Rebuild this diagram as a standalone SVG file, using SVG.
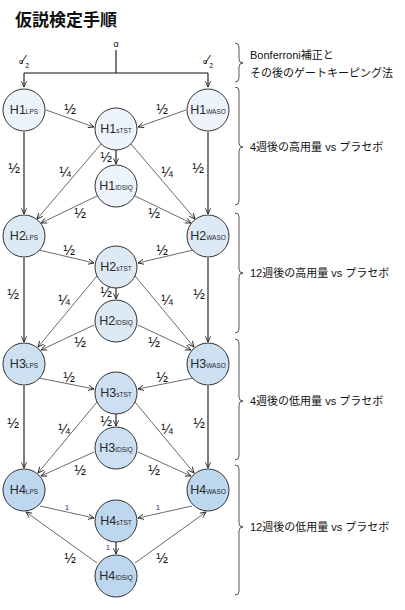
<svg xmlns="http://www.w3.org/2000/svg" width="405" height="610" viewBox="0 0 405 610">
<style>
.t{font-family:"Liberation Sans","Noto Sans CJK JP",sans-serif;fill:#111;font-weight:normal}
.title{font-family:"Noto Sans CJK JP",sans-serif;font-weight:bold;font-size:17px;fill:#111}
.side{font-size:11px}
.nl{font-size:12.5px;text-anchor:middle;fill:#2a2a2a}
.sub{font-size:6.5px}
.fr{font-size:14px;text-anchor:middle}
.one{font-size:8px;text-anchor:middle;fill:#4e2a75}
.n1{fill:#edf3fa}.n2{fill:#dde9f5}.n3{fill:#cde0f2}.n4{fill:#bdd7ee}
circle{stroke:#333;stroke-width:1}
.d{stroke:#444;stroke-width:0.8;fill:none;marker-end:url(#ah)}
.v{stroke:#111;stroke-width:1.1;fill:none;marker-end:url(#ah)}
.br{stroke:#444;stroke-width:0.9;fill:none}
</style>
<defs>
<marker id="ah" viewBox="0 0 8 8" refX="7.5" refY="4" markerWidth="7" markerHeight="7" markerUnits="userSpaceOnUse" orient="auto">
<path d="M1,1 L7.5,4 L1,7" fill="none" stroke="#222" stroke-width="1"/>
</marker>
</defs>
<rect width="405" height="610" fill="#fff"/>
<text class="title" x="15" y="26">仮説検定手順</text>

<g id="connectors">
<path d="M116,50 V73 M24,73 H208" stroke="#111" stroke-width="1.1" fill="none"/>
<path class="v" d="M24,73 V87"/>
<path class="v" d="M208,73 V87"/>
<path class="d" d="M46,110 L94,127"/>
<path class="d" d="M186,110 L138,127"/>
<path class="v" d="M24,132 V214"/>
<path class="v" d="M208,132 V214"/>
<path class="v" d="M116,150 V164"/>
<path class="d" d="M101,144 L37,219"/>
<path class="d" d="M131,144 L195,219"/>
<path class="d" d="M97,196 L41,223"/>
<path class="d" d="M135,196 L191,223"/>
<path class="d" d="M39,250 L94,263"/>
<path class="d" d="M193,250 L138,263"/>
<path class="v" d="M24,258 V342"/>
<path class="v" d="M208,258 V342"/>
<path class="v" d="M116,288 V299"/>
<path class="d" d="M97,276 L38,347"/>
<path class="d" d="M135,276 L194,347"/>
<path class="d" d="M94,325 L41,350"/>
<path class="d" d="M138,325 L191,350"/>
<path class="d" d="M39,378 L94,389"/>
<path class="d" d="M193,378 L138,389"/>
<path class="v" d="M24,386 V468"/>
<path class="v" d="M208,386 V468"/>
<path class="v" d="M116,414 V426"/>
<path class="d" d="M97,402 L38,473"/>
<path class="d" d="M135,402 L194,473"/>
<path class="d" d="M94,452 L41,476"/>
<path class="d" d="M138,452 L191,476"/>
<path class="d" d="M40,506 L94,518"/>
<path class="d" d="M192,506 L138,518"/>
<path class="v" d="M116,542 V554"/>
<path class="d" d="M97,563 L26,512"/>
<path class="d" d="M135,563 L206,512"/>
</g>

<g id="edge-labels" class="t">
<text x="116" y="47" style="font-size:9px;text-anchor:middle">α</text>
<text x="24" y="68" style="font-size:13px;text-anchor:middle"><tspan style="font-size:7px" dy="-4">α</tspan><tspan dy="0">⁄</tspan><tspan style="font-size:7px" dy="4">2</tspan></text>
<text x="208" y="68" style="font-size:13px;text-anchor:middle"><tspan style="font-size:7px" dy="-4">α</tspan><tspan dy="0">⁄</tspan><tspan style="font-size:7px" dy="4">2</tspan></text>
<text class="fr" x="70" y="114">½</text>
<text class="fr" x="162" y="114">½</text>
<text class="fr" x="14" y="173">½</text>
<text class="fr" x="198" y="173">½</text>
<text class="fr" x="106" y="162">½</text>
<text class="fr" x="65" y="177">¼</text>
<text class="fr" x="167" y="177">¼</text>
<text class="fr" x="80" y="218">½</text>
<text class="fr" x="154" y="218">½</text>
<text class="fr" x="69" y="255">½</text>
<text class="fr" x="162" y="255">½</text>
<text class="fr" x="13" y="299">½</text>
<text class="fr" x="199" y="299">½</text>
<text class="fr" x="106" y="297">½</text>
<text class="fr" x="64" y="305">¼</text>
<text class="fr" x="167" y="305">¼</text>
<text class="fr" x="80" y="347">½</text>
<text class="fr" x="154" y="347">½</text>
<text class="fr" x="69" y="382">½</text>
<text class="fr" x="162" y="382">½</text>
<text class="fr" x="13" y="428">½</text>
<text class="fr" x="199" y="428">½</text>
<text class="fr" x="106" y="426">½</text>
<text class="fr" x="64" y="434">¼</text>
<text class="fr" x="167" y="434">¼</text>
<text class="fr" x="80" y="475">½</text>
<text class="fr" x="154" y="475">½</text>
<text class="one" x="67" y="510">1</text>
<text class="one" x="158" y="510">1</text>
<text class="one" x="108" y="550">1</text>
<text class="fr" x="70" y="563">½</text>
<text class="fr" x="162" y="563">½</text>
</g>

<g id="H1LPS"><circle class="n1" cx="24" cy="110" r="21"/><text class="t nl" x="24" y="114">H1<tspan class="sub">LPS</tspan></text></g>
<g id="H1WASO"><circle class="n1" cx="208" cy="110" r="21"/><text class="t nl" x="208" y="114">H1<tspan class="sub">WASO</tspan></text></g>
<g id="H1sTST"><circle class="n1" cx="116" cy="129" r="21"/><text class="t nl" x="116" y="133">H1<tspan class="sub">sTST</tspan></text></g>
<g id="H1IDSIQ"><circle class="n1" cx="116" cy="186" r="21"/><text class="t nl" x="116" y="190">H1<tspan class="sub">IDSIQ</tspan></text></g>
<g id="H2LPS"><circle class="n2" cx="24" cy="236" r="21"/><text class="t nl" x="24" y="240">H2<tspan class="sub">LPS</tspan></text></g>
<g id="H2WASO"><circle class="n2" cx="208" cy="236" r="21"/><text class="t nl" x="208" y="240">H2<tspan class="sub">WASO</tspan></text></g>
<g id="H2sTST"><circle class="n2" cx="116" cy="267" r="21"/><text class="t nl" x="116" y="271">H2<tspan class="sub">sTST</tspan></text></g>
<g id="H2IDSIQ"><circle class="n2" cx="116" cy="321" r="21"/><text class="t nl" x="116" y="325">H2<tspan class="sub">IDSIQ</tspan></text></g>
<g id="H3LPS"><circle class="n3" cx="24" cy="364" r="21"/><text class="t nl" x="24" y="368">H3<tspan class="sub">LPS</tspan></text></g>
<g id="H3WASO"><circle class="n3" cx="208" cy="364" r="21"/><text class="t nl" x="208" y="368">H3<tspan class="sub">WASO</tspan></text></g>
<g id="H3sTST"><circle class="n3" cx="116" cy="393" r="21"/><text class="t nl" x="116" y="397">H3<tspan class="sub">sTST</tspan></text></g>
<g id="H3IDSIQ"><circle class="n3" cx="116" cy="448" r="21"/><text class="t nl" x="116" y="452">H3<tspan class="sub">IDSIQ</tspan></text></g>
<g id="H4LPS"><circle class="n4" cx="24" cy="490" r="21"/><text class="t nl" x="24" y="494">H4<tspan class="sub">LPS</tspan></text></g>
<g id="H4WASO"><circle class="n4" cx="208" cy="490" r="21"/><text class="t nl" x="208" y="494">H4<tspan class="sub">WASO</tspan></text></g>
<g id="H4sTST"><circle class="n4" cx="116" cy="521" r="21"/><text class="t nl" x="116" y="525">H4<tspan class="sub">sTST</tspan></text></g>
<g id="H4IDSIQ"><circle class="n4" cx="116" cy="576" r="21"/><text class="t nl" x="116" y="580">H4<tspan class="sub">IDSIQ</tspan></text></g>

<g id="braces">
<path class="br" d="M235,43 Q239,43 239,47 L239,59 Q239,63 243,63 Q239,63 239,67 L239,78 Q239,82 235,82"/>
<path class="br" d="M235,87 Q239,87 239,91 L239,143 Q239,147 243,147 Q239,147 239,151 L239,201 Q239,205 235,205"/>
<path class="br" d="M235,213 Q239,213 239,217 L239,269 Q239,273 243,273 Q239,273 239,277 L239,329 Q239,333 235,333"/>
<path class="br" d="M235,339 Q239,339 239,343 L239,397 Q239,401 243,401 Q239,401 239,405 L239,456 Q239,460 235,460"/>
<path class="br" d="M235,465 Q239,465 239,469 L239,523 Q239,527 243,527 Q239,527 239,531 L239,591 Q239,595 235,595"/>
<text class="t side" x="250" y="59">Bonferroni補正と</text>
<text class="t side" x="250" y="77">その後のゲートキーピング法</text>
<text class="t side" x="250" y="151">4週後の高用量 vs プラセボ</text>
<text class="t side" x="250" y="277">12週後の高用量 vs プラセボ</text>
<text class="t side" x="250" y="405">4週後の低用量 vs プラセボ</text>
<text class="t side" x="250" y="531">12週後の低用量 vs プラセボ</text>
</g>
</svg>
